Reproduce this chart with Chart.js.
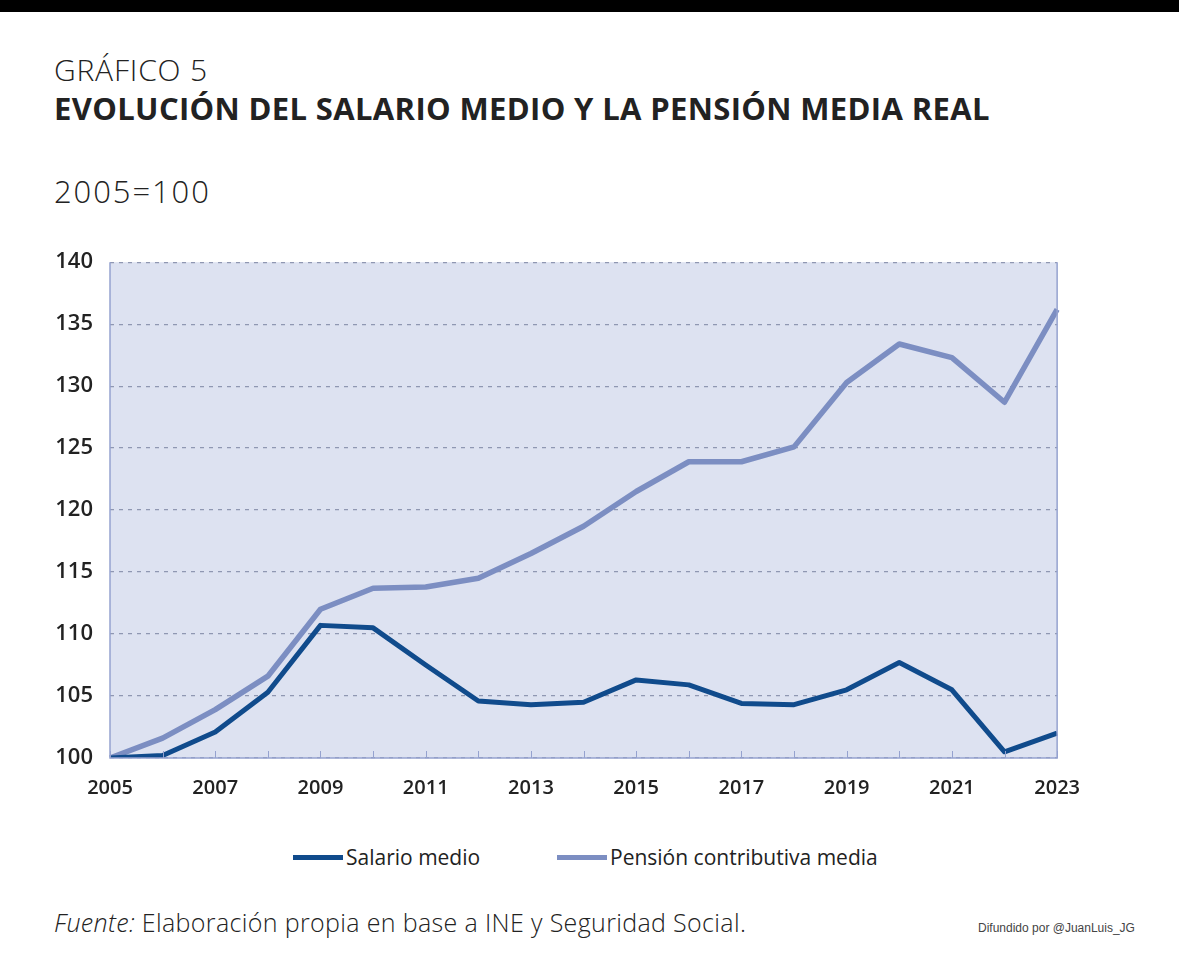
<!DOCTYPE html>
<html lang="es">
<head>
<meta charset="utf-8">
<title>Gráfico 5</title>
<script src="https://cdn.jsdelivr.net/npm/chart.js@4.4.1/dist/chart.umd.min.js"></script>
<style>
  html, body { margin: 0; padding: 0; background: #fff; }
  body { width: 1179px; height: 959px; position: relative; overflow: hidden; font-family: "Open Sans", "Noto Sans", sans-serif; color: #222; }
  .topbar { position: absolute; left: 0; top: 0; width: 1179px; height: 12px; background: #000; }
  .kicker { position: absolute; left: 54px; top: 49px; font-size: 30px; font-weight: 300; letter-spacing: 0.8px; }
  .title { position: absolute; left: 54px; top: 87px; font-size: 31px; font-weight: 700; letter-spacing: 0.35px; }
  .unit { position: absolute; left: 54px; top: 170px; font-size: 31px; font-weight: 300; letter-spacing: 1.9px; }
  #wrap { position: absolute; left: 40px; top: 232px; width: 1050px; height: 568px; }
  #legend { position: absolute; top: 843px; left: 0; width: 1179px; font-size: 21px; }
  #legend .item { position: absolute; display: flex; align-items: center; white-space: nowrap; }
  #legend .swatch { display: inline-block; width: 50px; height: 5px; margin-right: 3px; }
  .source { position: absolute; left: 54px; top: 905px; font-size: 25px; font-weight: 300; letter-spacing: 0.35px; }
  .source i { font-style: italic; }
  .credit { position: absolute; left: 978px; top: 921px; font-family: "Liberation Sans", Arial, sans-serif; font-size: 12px; color: #444; }
</style>
</head>
<body>
<div class="topbar"></div>
<div class="kicker">GRÁFICO 5</div>
<div class="title">EVOLUCIÓN DEL SALARIO MEDIO Y LA PENSIÓN MEDIA REAL</div>
<div class="unit">2005=100</div>
<div id="wrap"><canvas id="chart"></canvas></div>
<div id="legend"></div>
<div class="source"><i>Fuente:</i> Elaboración propia en base a INE y Seguridad Social.</div>
<div class="credit">Difundido por @JuanLuis_JG</div>
<script>
// Values (index, 2005 = 100)
const years = ['2005','2006','2007','2008','2009','2010','2011','2012','2013','2014',
               '2015','2016','2017','2018','2019','2020','2021','2022','2023'];
const salarioMedio = [100, 100.2, 102.1, 105.3, 110.7, 110.5, 107.5, 104.6, 104.3, 104.5,
                      106.3, 105.9, 104.4, 104.3, 105.5, 107.7, 105.5, 100.5, 102.0];
const pensionMedia = [100, 101.6, 103.9, 106.6, 112.0, 113.7, 113.8, 114.5, 116.5, 118.7,
                      121.5, 123.9, 123.9, 125.1, 130.3, 133.4, 132.3, 128.7, 136.2];
const seriesNames = ['Salario medio', 'Pensión contributiva media'];
const seriesColors = ['#104b8c', '#7c8ec2'];
const legendLeft = [293, 557];

const FONT = '"Open Sans", "Noto Sans", sans-serif';
const FRAME = '#95a2cf';

// plot background, frame and the short inward ticks on the x axis
const framePlugin = {
  id: 'frame',
  beforeDraw(chart) {
    const { ctx, chartArea: a } = chart;
    ctx.save();
    ctx.fillStyle = '#dde2f1';
    ctx.fillRect(a.left, a.top, a.right - a.left, a.bottom - a.top);
    ctx.restore();
  },
  afterDatasetsDraw(chart) {
    const { ctx, chartArea: a, scales } = chart;
    ctx.save();
    ctx.strokeStyle = FRAME;
    ctx.lineWidth = 1.5;
    ctx.beginPath();
    ctx.moveTo(a.left, a.top);
    ctx.lineTo(a.left, a.bottom);
    ctx.lineTo(a.right, a.bottom);
    ctx.lineTo(a.right, a.top);
    ctx.stroke();
    ctx.lineWidth = 1;
    const x = scales.x;
    for (let i = 0; i < x.ticks.length; i++) {
      const px = Math.round(x.getPixelForTick(i)) + 0.5;
      ctx.beginPath();
      ctx.moveTo(px, a.bottom);
      ctx.lineTo(px, a.bottom - 7);
      ctx.stroke();
    }
    ctx.restore();
  }
};

new Chart(document.getElementById('chart'), {
  type: 'line',
  data: {
    labels: years,
    datasets: [
      { label: seriesNames[0], data: salarioMedio, borderColor: seriesColors[0], borderWidth: 5, order: 1 },
      { label: seriesNames[1], data: pensionMedia, borderColor: seriesColors[1], borderWidth: 5.5, order: 2 }
    ]
  },
  options: {
    responsive: true,
    maintainAspectRatio: false,
    animation: false,
    events: [],
    layout: { padding: { top: 10, right: 23, bottom: 0, left: 0 } },
    elements: {
      point: { radius: 0 },
      line: { tension: 0, borderJoinStyle: 'round', borderCapStyle: 'butt' }
    },
    scales: {
      x: {
        type: 'category',
        offset: false,
        grid: { display: false },
        border: { display: false },
        ticks: {
          autoSkip: false,
          maxRotation: 0,
          padding: 10,
          color: '#222',
          font: { family: FONT, size: 20, weight: '600' },
          callback: (v, i) => (i % 2 === 0 ? years[i] : '')
        },
        afterFit: (s) => { s.height = 42; }
      },
      y: {
        min: 100,
        max: 140,
        grid: { color: '#8f97b2', lineWidth: 1.3, drawTicks: false },
        border: { display: false, dash: [4, 5] },
        ticks: {
          stepSize: 5,
          padding: 17,
          color: '#222',
          font: { family: FONT, size: 22, weight: '600' }
        },
        afterFit: (s) => { s.width = 70; }
      }
    },
    plugins: {
      legend: { display: false },
      tooltip: { enabled: false }
    }
  },
  plugins: [framePlugin]
});

// legend built from the same series names / colours
const legend = document.getElementById('legend');
seriesNames.forEach((name, i) => {
  const item = document.createElement('div');
  item.className = 'item';
  item.style.left = legendLeft[i] + 'px';
  item.innerHTML = `<span class="swatch" style="background:${seriesColors[i]}"></span><span>${name}</span>`;
  legend.appendChild(item);
});
</script>
</body>
</html>
